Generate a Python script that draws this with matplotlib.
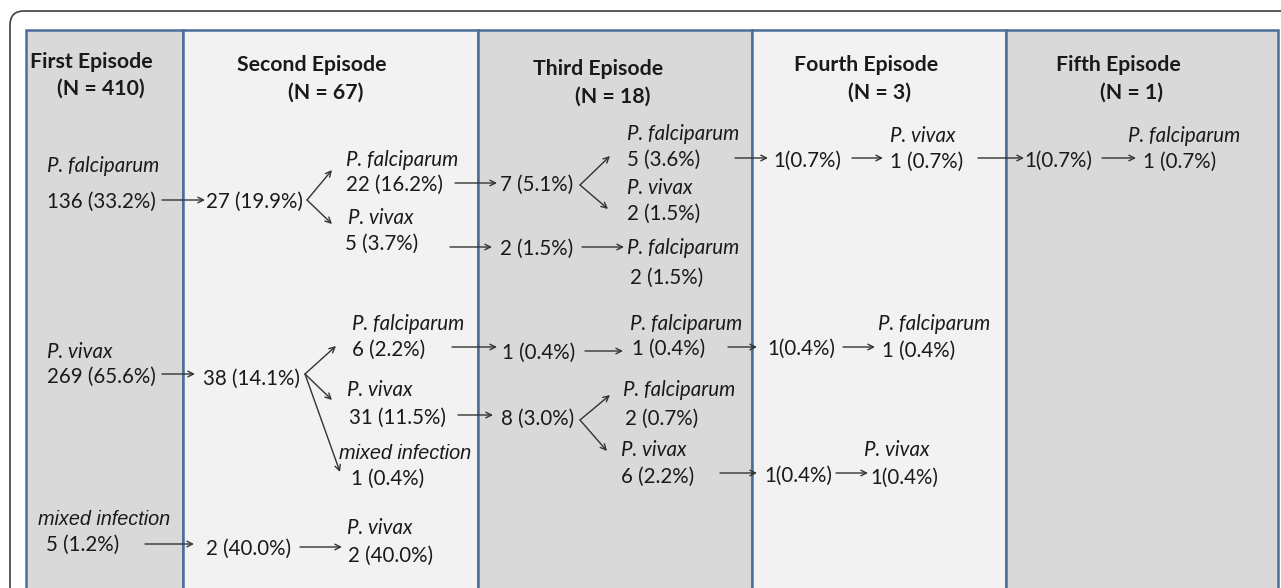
import matplotlib.pyplot as plt
from matplotlib.patches import FancyBboxPatch, Rectangle

# episode headers and column fills
episodes = ["First Episode", "Second Episode", "Third Episode", "Fourth Episode", "Fifth Episode"]
n_cases = [410, 67, 18, 3, 1]
col_edges = [26, 183, 478, 752, 1006, 1278]
col_fills = ["#d9d9d9", "#f2f2f2", "#d9d9d9", "#f2f2f2", "#d9d9d9"]
head_x = [91, 312, 598, 866, 1118]
head_y = [62, 65, 69, 65, 65]
sub_x = [101, 326, 613, 880, 1131]
sub_y = [89, 93, 97, 93, 93]

# node labels: (species, count text, x species, x count, y species, y count)
nodes = [
    ("P. falciparum", "136 (33.2%)", 47, 47, 165, 200),
    ("P. vivax", "269 (65.6%)", 47, 47, 350, 375),
    ("mixed infection", "5 (1.2%)", 38, 46, 518, 543),
    (None, "27 (19.9%)", None, 206, None, 200),
    ("P. falciparum", "22 (16.2%)", 346, 346, 158, 183),
    ("P. vivax", "5 (3.7%)", 348, 345, 216, 242),
    (None, "7 (5.1%)", None, 500, None, 183),
    (None, "2 (1.5%)", None, 500, None, 247),
    ("P. falciparum", "5 (3.6%)", 627, 627, 133, 158),
    ("P. vivax", "2 (1.5%)", 627, 627, 186, 212),
    ("P. falciparum", "2 (1.5%)", 627, 630, 247, 276),
    (None, "1(0.7%)", None, 773, None, 159),
    ("P. vivax", "1 (0.7%)", 890, 890, 135, 160),
    (None, "1(0.7%)", None, 1024, None, 159),
    ("P. falciparum", "1 (0.7%)", 1128, 1143, 134, 160),
    (None, "38 (14.1%)", None, 203, None, 377),
    ("P. falciparum", "6 (2.2%)", 352, 352, 322, 348),
    ("P. vivax", "31 (11.5%)", 347, 349, 389, 416),
    ("mixed infection", "1 (0.4%)", 339, 351, 452, 477),
    (None, "1 (0.4%)", None, 502, None, 351),
    ("P. falciparum", "1 (0.4%)", 630, 632, 322, 347),
    (None, "8 (3.0%)", None, 501, None, 417),
    ("P. falciparum", "2 (0.7%)", 623, 625, 389, 417),
    ("P. vivax", "6 (2.2%)", 621, 621, 449, 475),
    (None, "1(0.4%)", None, 767, None, 347),
    ("P. falciparum", "1 (0.4%)", 878, 882, 322, 349),
    (None, "1(0.4%)", None, 764, None, 474),
    ("P. vivax", "1(0.4%)", 864, 870, 449, 476),
    (None, "2 (40.0%)", None, 206, None, 547),
    ("P. vivax", "2 (40.0%)", 347, 348, 527, 554),
]

# arrows: start -> end
arrows = [
    ((162, 200), (205, 200)), ((307, 200), (332, 170)), ((307, 200), (332, 224)),
    ((455, 183), (497, 183)), ((450, 247), (492, 247)),
    ((580, 185), (610, 156)), ((580, 185), (608, 209)), ((582, 247), (624, 247)),
    ((735, 158), (768, 158)), ((852, 158), (883, 158)),
    ((978, 158), (1024, 158)), ((1102, 158), (1136, 158)),
    ((162, 374), (195, 374)), ((305, 374), (336, 346)), ((305, 374), (332, 400)),
    ((305, 374), (340, 472)),
    ((452, 347), (497, 347)), ((585, 351), (623, 351)),
    ((458, 415), (493, 415)), ((580, 420), (610, 395)), ((580, 420), (607, 451)),
    ((728, 347), (757, 347)), ((843, 347), (875, 347)),
    ((720, 473), (757, 473)), ((836, 473), (868, 473)),
    ((145, 544), (194, 544)), ((300, 547), (342, 547)),
]

plt.rcParams['font.family'] = ['Lato', 'DejaVu Sans']
fig = plt.figure(figsize=(12.81, 5.88), dpi=100)
ax = fig.add_axes([0, 0, 1, 1])
ax.set_xlim(0, 1281)
ax.set_ylim(588, 0)
ax.axis('off')

# outer rounded frame
ax.add_patch(FancyBboxPatch((10, 11), 1290, 620, boxstyle="round,pad=0,rounding_size=14",
                            fc="white", ec="#404040", lw=1.2))

for i in range(len(episodes)):
    x0, x1 = col_edges[i], col_edges[i + 1]
    ax.add_patch(Rectangle((x0, 30), x1 - x0, 600, fc=col_fills[i], ec="#4a6e9a", lw=1.8))
    ax.text(head_x[i], head_y[i], episodes[i], ha='center', va='center', fontsize=15.3,
            fontweight='bold', color="#1a1a1a")
    ax.text(sub_x[i], sub_y[i], "(N = %d)" % n_cases[i], ha='center', va='center', fontsize=15.3,
            fontweight='bold', color="#1a1a1a")

# small nudge so the glyph centres sit on the read-off rows
dy = 1.5
for species, count, xs, xc, ys, yc in nodes:
    if species:
        fam = ['Liberation Sans'] if species.startswith("mixed") else ['Lato']
        fs = 14.3 if species.startswith("mixed") else 14.8
        ax.text(xs, ys + dy, species, ha='left', va='center', fontsize=fs, style='italic',
                family=fam, color="#1a1a1a")
    ax.text(xc, yc + dy, count, ha='left', va='center', fontsize=14.8, color="#1a1a1a")

for (x0, y0), (x1, y1) in arrows:
    ax.annotate("", xy=(x1, y1), xytext=(x0, y0),
                arrowprops=dict(arrowstyle='->', color="#333333", lw=1.0,
                                shrinkA=0, shrinkB=0, mutation_scale=10))

fig.savefig("out.png", dpi=100)
